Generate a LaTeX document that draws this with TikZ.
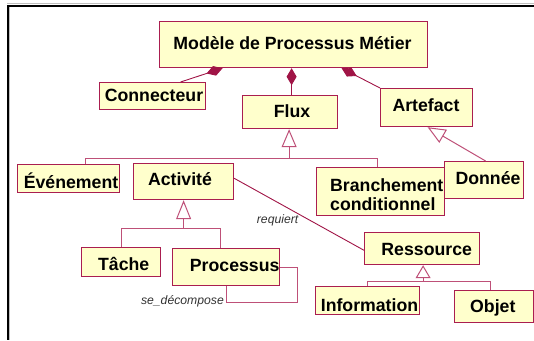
\documentclass[tikz,border=0pt]{standalone}
\usepackage{fontspec}
\setmainfont{Liberation Sans}
\usetikzlibrary{arrows.meta}
\definecolor{umlfill}{RGB}{255,255,204}
\definecolor{umlborder}{RGB}{170,30,80}
\definecolor{genline}{RGB}{190,80,120}
\definecolor{assocline}{RGB}{160,20,70}
\begin{document}
\begin{tikzpicture}[x=1pt,y=-1pt,
  box/.style={draw=umlborder, fill=umlfill, line width=1.2pt, inner sep=0pt, anchor=north west},
  txt/.style={font=\fontsize{17.7}{19}\selectfont\bfseries, inner sep=0pt, anchor=base},
  lab/.style={font=\fontsize{12.2}{14}\selectfont\itshape, text=black!80, inner sep=0pt},
  comp/.style={draw=assocline, line width=0.9pt, arrows={Diamond[length=17pt,width=10pt]-}},
  assoc/.style={draw=assocline, line width=0.9pt},
  genl/.style={draw=genline, line width=1pt},
  gentip/.style={draw=genline, line width=1pt, arrows={Triangle[length=#1,width=15pt,fill=white]-}}
]
\useasboundingbox (0,0) rectangle (534,340);
% frame
\draw[gray!50, line width=0.8pt] (7,3.6) -- (534,3.6);
\draw[gray!50, line width=0.8pt] (9.5,6.5) -- (9.5,340);
\draw[black, line width=2pt] (534,5.5) -- (7.7,5.5) -- (7.7,340);

% boxes
\node[box, minimum width=268pt, minimum height=46pt] (modele) at (159,21) {};
\node[box, minimum width=106pt, minimum height=27pt] (connecteur) at (99,82) {};
\node[box, minimum width=95pt, minimum height=33pt] (flux) at (242,95) {};
\node[box, minimum width=92pt, minimum height=38pt] (artefact) at (380,88) {};
\node[box, minimum width=128pt, minimum height=48pt] (branchement) at (316,167) {};
\node[box, minimum width=79pt, minimum height=37pt] (donnee) at (444,161) {};
\node[box, minimum width=102pt, minimum height=28pt] (evenement) at (17,164) {};
\node[box, minimum width=100pt, minimum height=36pt] (activite) at (133,163) {};
\node[box, minimum width=79pt, minimum height=29pt] (tache) at (81,247) {};
\node[box, minimum width=107pt, minimum height=37pt] (processus) at (172,248) {};
\node[box, minimum width=115pt, minimum height=32pt] (ressource) at (364,232) {};
\node[box, minimum width=104pt, minimum height=28pt] (information) at (315,286) {};
\node[box, minimum width=79pt, minimum height=32pt] (objet) at (454,290) {};

% compositions
\draw[comp] ([xshift=-71pt]modele.south) -- ([xshift=28pt]connecteur.north);
\draw[comp] ([xshift=-2pt]modele.south) -- ([xshift=1.5pt]flux.north);
\draw[comp] ([xshift=48pt]modele.south) -- (artefact.north west);

% generalisations
\draw[gentip=18pt] ([xshift=-1pt]flux.south) -- ++(0,29) coordinate (fluxbar);
\draw[genl] ([xshift=17pt]evenement.north) |- (fluxbar) -| ([xshift=-3pt]branchement.north);
\draw[gentip=18pt] ([xshift=1pt]artefact.south) -- ([xshift=1.5pt]donnee.north);
\draw[gentip=19pt] (activite.south) -- ++(0,28.7) coordinate (actbar);
\draw[genl] (tache.north) |- (actbar) -| ([xshift=-5.5pt]processus.north);
\draw[gentip=13pt] ([xshift=1pt]ressource.south) -- ++(0,16.5) coordinate (resbar);
\draw[genl] (information.north) |- (resbar) -| ([xshift=-4pt]objet.north);

% associations
\draw[assoc] ([yshift=3.3pt]activite.east) -- ([yshift=-1.7pt]ressource.west);
\draw[genl] (processus.east) -- ++(17,0) -- ++(0,35) -| (processus.south);
\node[lab, anchor=base west] (lreq) at (256.7,223.5) {requiert};
\node[lab, anchor=base east] (lse) at (224,304.5) {se\_décompose};

% texts
\node[txt] (tmodele) at (292.5,49.3) {Modèle de Processus Métier};
\node[txt] (tconnecteur) at (154,101.7) {Connecteur};
\node[txt] (tflux) at (292,117.5) {Flux};
\node[txt] (tartefact) at (426,111.7) {Artefact};
\node[txt] (tdonnee) at (488,184) {Donnée};
\node[txt, anchor=base west] (tbranch1) at (330,191) {Branchement};
\node[txt, anchor=base west] (tbranch2) at (330,210) {conditionnel};
\node[txt] (tevenement) at (71,188.3) {Événement};
\node[txt] (tactivite) at (180,185) {Activité};
\node[txt] (ttache) at (123.7,270) {Tâche};
\node[txt] (tprocessus) at (234.7,271) {Processus};
\node[txt] (tressource) at (426.7,255) {Ressource};
\node[txt] (tinformation) at (369.5,311.7) {Information};
\node[txt] (tobjet) at (492.8,312.5) {Objet};
\end{tikzpicture}
\end{document}
